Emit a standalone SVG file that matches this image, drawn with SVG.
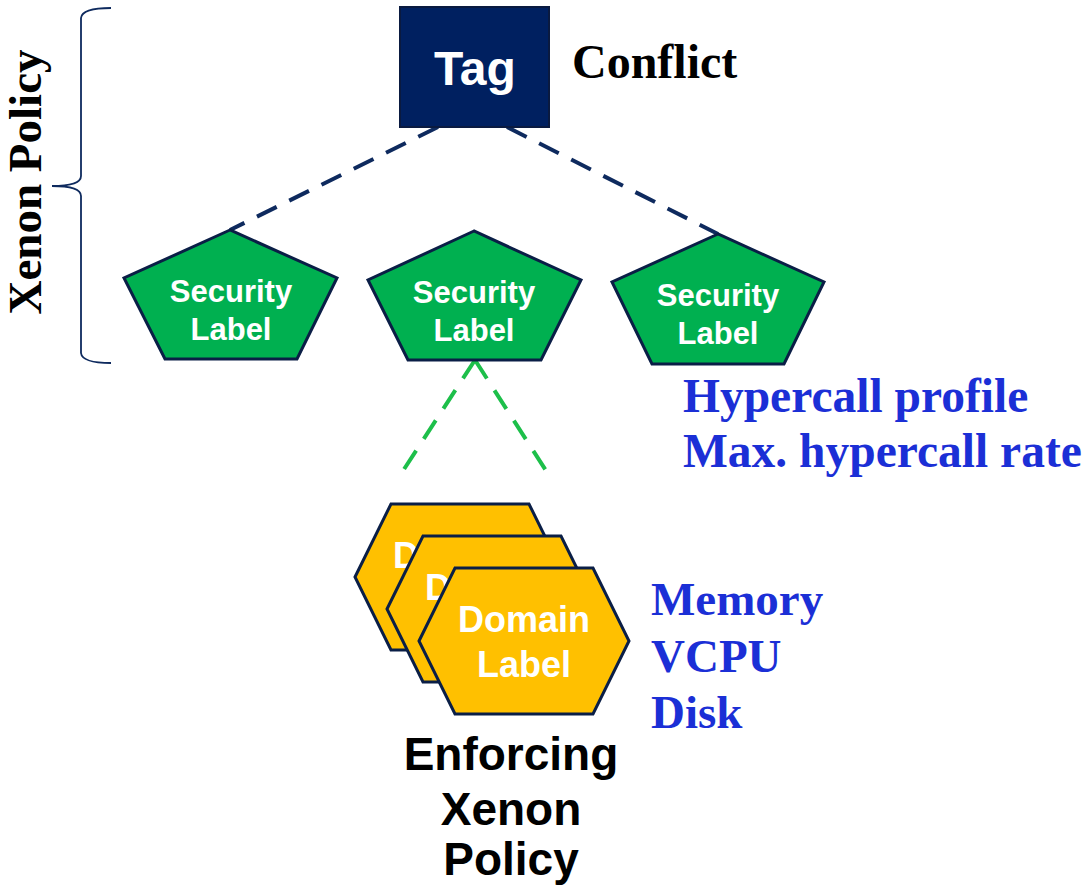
<svg xmlns="http://www.w3.org/2000/svg" width="1092" height="894" viewBox="0 0 1092 894">
<style>
.pent{fill:#00B050;stroke:#0A1E46;stroke-width:3;stroke-linejoin:miter}
.hex{fill:#FFC000;stroke:#0A1E46;stroke-width:3}
.wt{font-family:"Liberation Sans",Arial,sans-serif;font-weight:bold;fill:#fff;text-anchor:middle}
.bt{font-family:"Liberation Serif","Times New Roman",serif;font-weight:bold;fill:#1B2FD6}
.et{font-family:"Liberation Sans",Arial,sans-serif;font-weight:bold;font-size:46px;text-anchor:middle;fill:#000}
.navy{stroke:#0E2A5E;stroke-width:4;stroke-dasharray:22 14;fill:none}
.green{stroke:#1DBF4A;stroke-width:4;stroke-dasharray:22 14;fill:none}
</style>
<rect width="1092" height="894" fill="#fff"/>
<g id="brace">
<path d="M111,8 Q82,8 81,18 L81,176 Q81,186 52,186 Q81,186 81,196 L81,353 Q82,363 111,363" fill="none" stroke="#0E2A5E" stroke-width="1.8"/>
<text transform="translate(41,182) rotate(-90)" font-family="'Liberation Serif','Times New Roman',serif" font-weight="bold" font-size="47" text-anchor="middle" fill="#000">Xenon Policy</text>
</g>
<g id="connectors">
<line class="navy" x1="438" y1="127" x2="230" y2="230"/>
<line class="navy" x1="507" y1="127" x2="718" y2="234"/>
<line class="green" x1="475" y1="360" x2="397" y2="480"/>
<line class="green" x1="475" y1="360" x2="552" y2="480"/>
</g>
<g id="tag">
<rect x="400" y="7" width="149" height="120" fill="#002060" stroke="#0A1A40" stroke-width="2"/>
<text class="wt" x="475" y="85" font-size="48">Tag</text>
</g>
<text id="conflict" x="572" y="78" font-family="'Liberation Serif','Times New Roman',serif" font-weight="bold" font-size="48" fill="#000">Conflict</text>
<g id="sec1">
<polygon class="pent" points="230,230 124,278 165,359 297,359 337,278"/>
<text class="wt" x="231" y="302" font-size="31">Security</text>
<text class="wt" x="231" y="340" font-size="31">Label</text>
</g>
<g id="sec2">
<polygon class="pent" points="474,231 368,280 408,360 541,360 581,280"/>
<text class="wt" x="474" y="303" font-size="31">Security</text>
<text class="wt" x="474" y="341" font-size="31">Label</text>
</g>
<g id="sec3">
<polygon class="pent" points="718,234 612,282 652,364 784,364 824,282"/>
<text class="wt" x="718" y="306" font-size="31">Security</text>
<text class="wt" x="718" y="344" font-size="31">Label</text>
</g>
<g id="hypercall">
<text class="bt" x="683" y="412" font-size="47.5">Hypercall profile</text>
<text class="bt" x="683" y="467" font-size="47.5">Max. hypercall rate</text>
</g>
<g id="dom1">
<polygon class="hex" points="355,577 391,504 529,504 565,577 529,650 391,650"/>
<text class="wt" x="393" y="568" font-size="36" style="text-anchor:start">D</text>
</g>
<g id="dom2">
<polygon class="hex" points="387,609 423,536 561,536 597,609 561,682 423,682"/>
<text class="wt" x="425" y="600" font-size="36" style="text-anchor:start">D</text>
</g>
<g id="dom3">
<polygon class="hex" points="419,641 455,568 593,568 629,641 593,714 455,714"/>
<text class="wt" x="524" y="632" font-size="36">Domain</text>
<text class="wt" x="524" y="677" font-size="36">Label</text>
</g>
<g id="resources">
<text class="bt" x="651" y="615" font-size="47">Memory</text>
<text class="bt" x="651" y="672" font-size="47">VCPU</text>
<text class="bt" x="651" y="728" font-size="47">Disk</text>
</g>
<g id="enforcing">
<text class="et" x="511" y="770">Enforcing</text>
<text class="et" x="511" y="825">Xenon</text>
<text class="et" x="511" y="875">Policy</text>
</g>
</svg>
